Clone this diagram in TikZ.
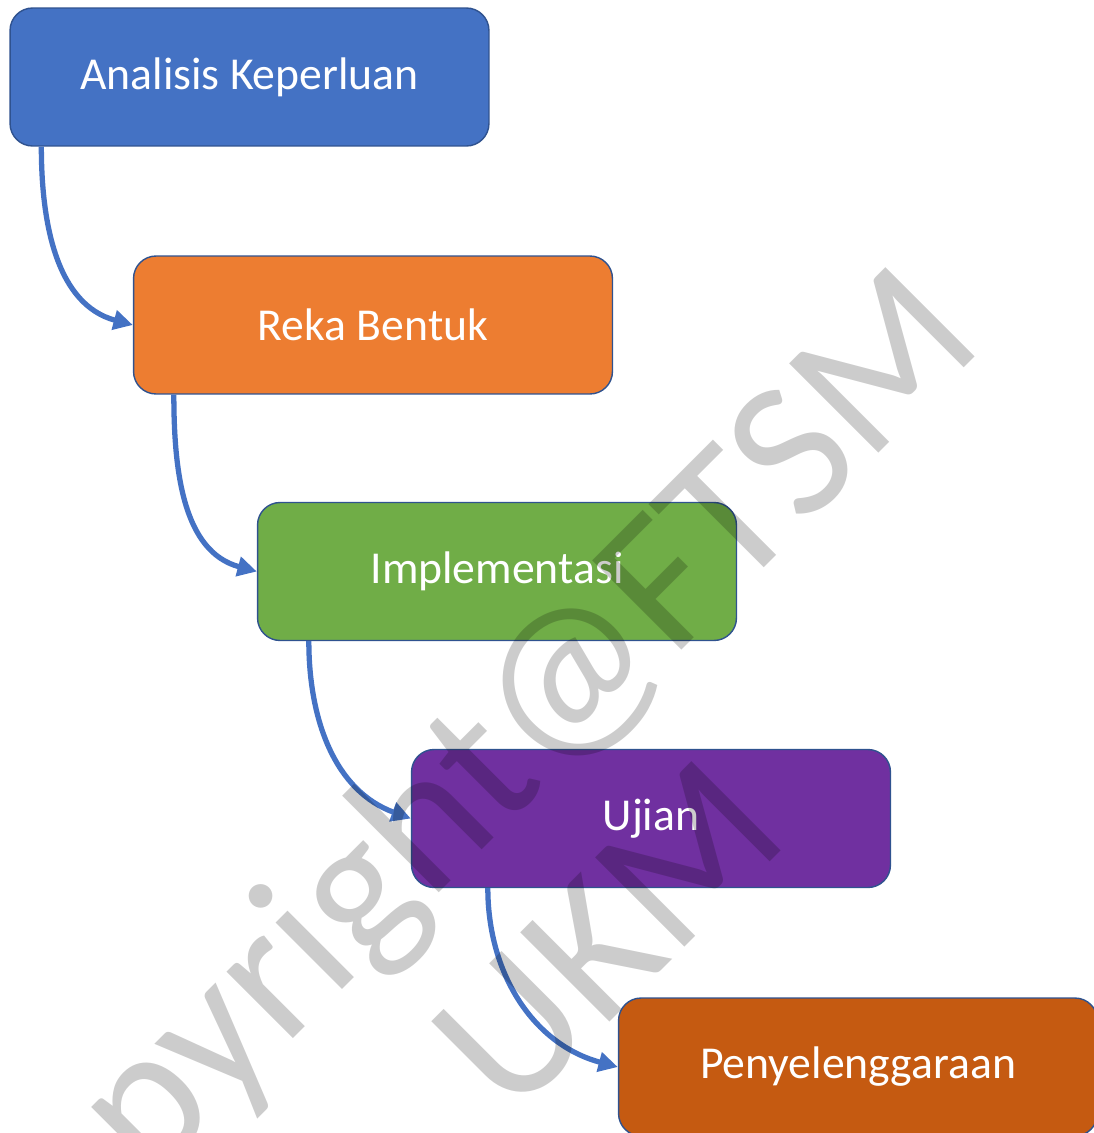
\documentclass[tikz,border=0pt]{standalone}
\usepackage{fontspec}
\setmainfont{Carlito}
\usetikzlibrary{arrows.meta,calc}

\definecolor{boxblue}{HTML}{4472C4}
\definecolor{boxorange}{HTML}{ED7D31}
\definecolor{boxgreen}{HTML}{70AD47}
\definecolor{boxpurple}{HTML}{7030A0}
\definecolor{boxrust}{HTML}{C55A11}
\definecolor{edgeblue}{HTML}{2F528F}

\begin{document}
\begin{tikzpicture}[x=0.02cm, y=-0.02cm,
    stage/.style={draw=edgeblue, line width=0.8pt, rounded corners=0.45cm, minimum width=9.58cm, minimum height=2.76cm, inner sep=0pt, text=white, font=\fontsize{26}{31}\selectfont},
    flow/.style={draw=boxblue, line width=3pt, -{Triangle[length=11pt,width=11pt]}},
    wmtext/.style={text=black, text opacity=0.2, inner sep=0pt, rotate=45, font=\fontsize{112}{112}\selectfont}]
  \useasboundingbox (0,0) rectangle (1094,1133);
  \clip (0,0) rectangle (1094,1133);
  % stages of the waterfall
  \node[stage, fill=boxblue] (analisis) at (249.5,77) {Analisis Keperluan};
  \node[stage, fill=boxorange] (reka) at (373,325) {Reka Bentuk};
  \node[stage, fill=boxgreen] (impl) at (497,571.5) {Implementasi};
  \node[stage, fill=boxpurple] (ujian) at (651,818.5) {Ujian};
  \node[stage, fill=boxrust] (penye) at (858,1067) {Penyelenggaraan};
  % connectors
  \draw[flow] ([xshift=0.64cm]analisis.south west) to[out=-90, in=165] (reka.west);
  \draw[flow] ([xshift=0.82cm]reka.south west) to[out=-90, in=165] (impl.west);
  \draw[flow] ([xshift=1.04cm]impl.south west) to[out=-90, in=160] (ujian.west);
  \draw[flow] ([xshift=1.54cm]ujian.south west) to[out=-90, in=165] (penye.west);
  % watermark
  \node[wmtext, anchor=base east] (wm1) at (987,345) {copyright@FTSM};
  \node[wmtext, anchor=base] (wm2) at ($(wm1.base)+(150,150)$) {UKM};
\end{tikzpicture}
\end{document}
